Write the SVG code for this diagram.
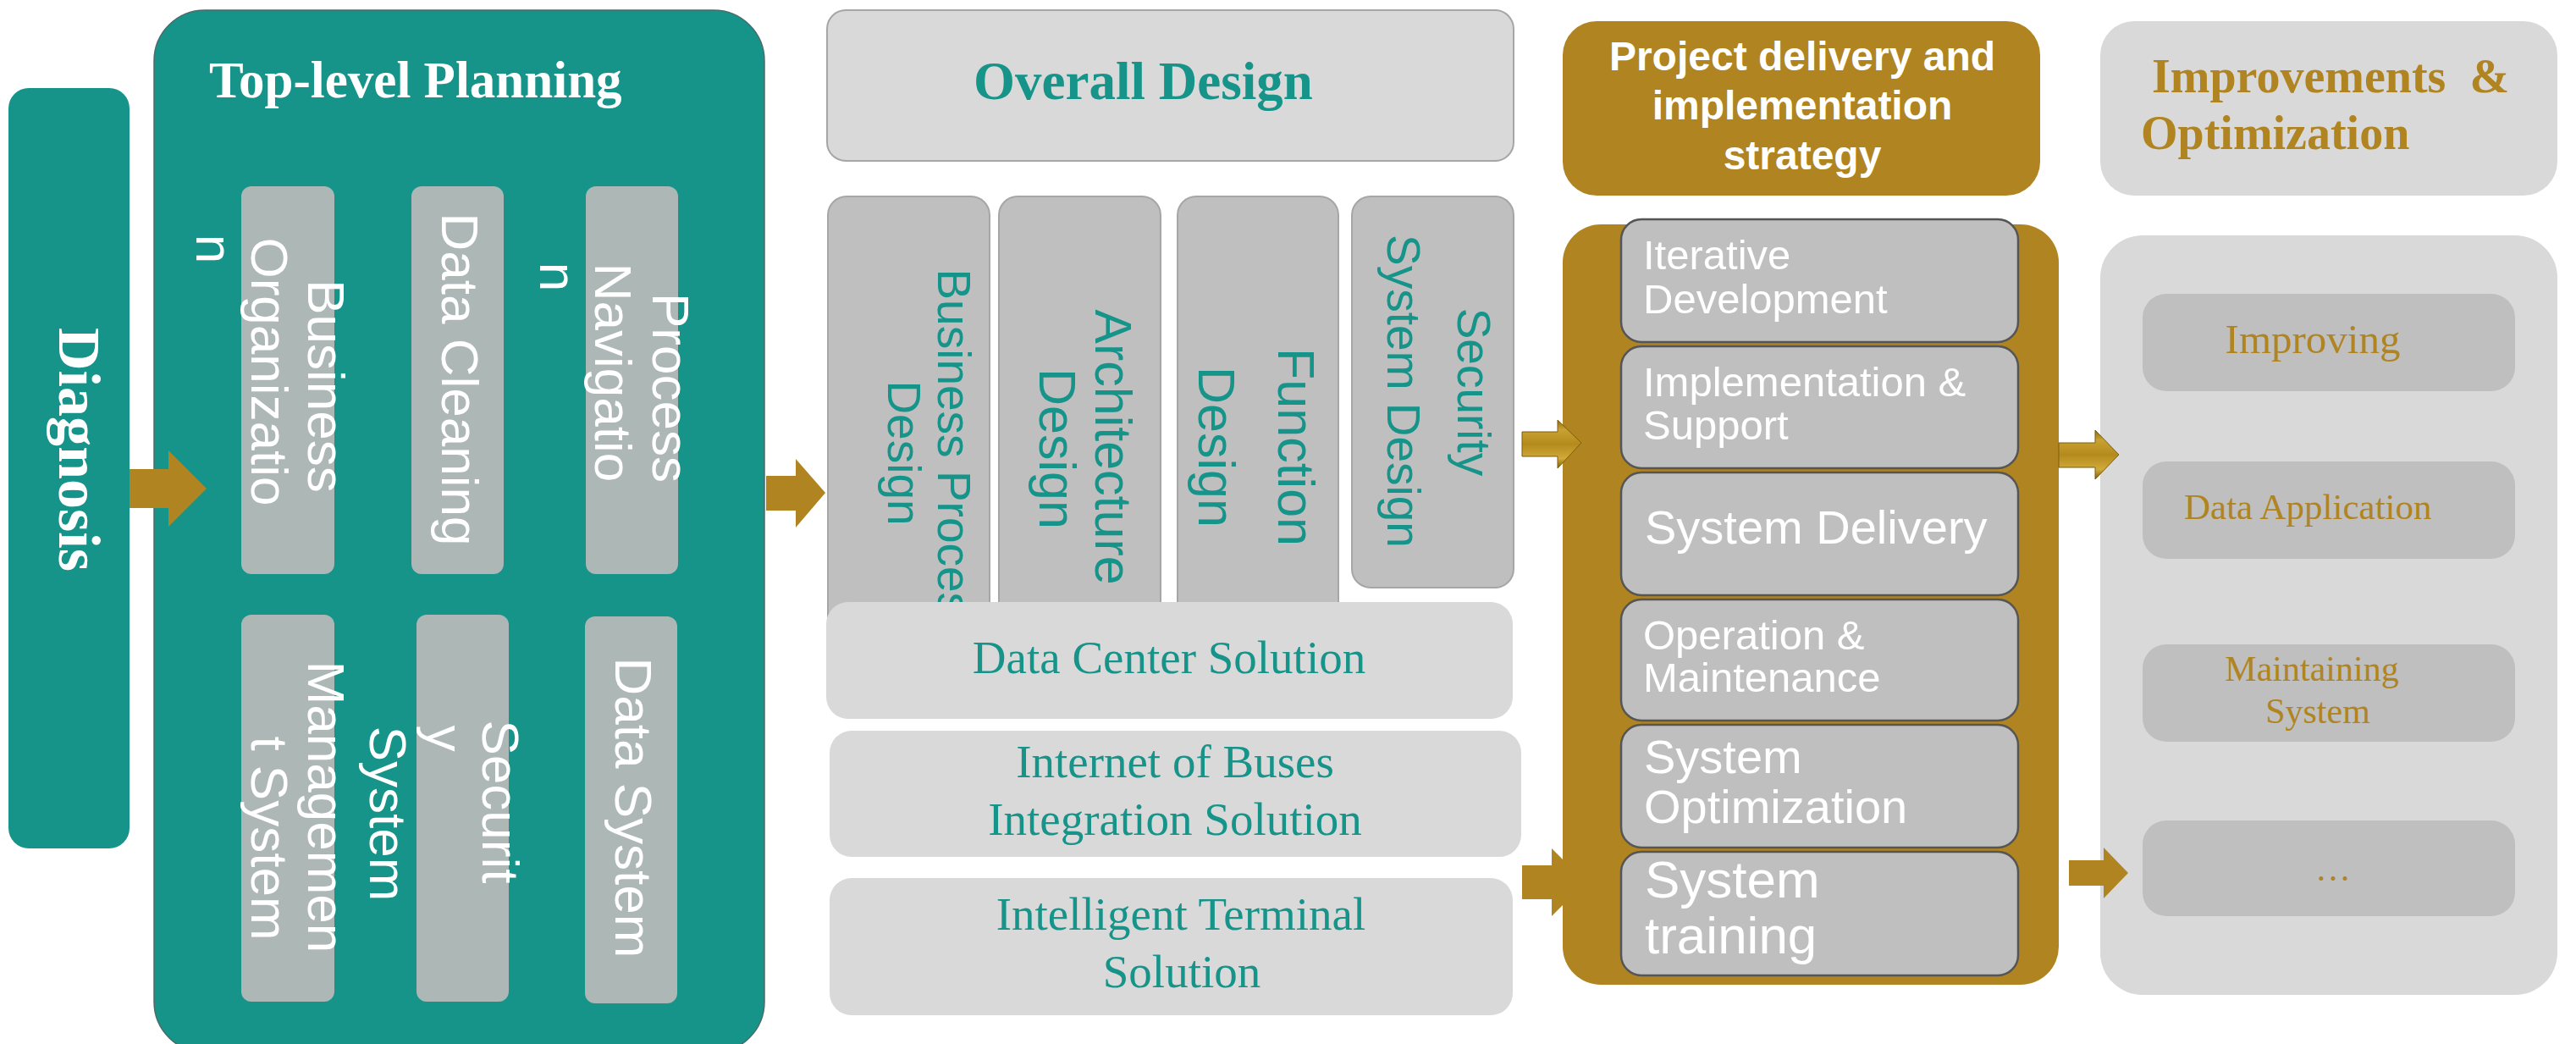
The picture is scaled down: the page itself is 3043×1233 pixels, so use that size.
<svg xmlns="http://www.w3.org/2000/svg" width="3043" height="1233" viewBox="0 0 3043 1233">
<defs>
<linearGradient id="bevel" x1="0" y1="0" x2="0" y2="1">
<stop offset="0" stop-color="#8E6C14"/>
<stop offset="0.2" stop-color="#C9A232"/>
<stop offset="0.5" stop-color="#B48A1C"/>
<stop offset="0.8" stop-color="#D0AA3A"/>
<stop offset="1" stop-color="#7C5E10"/>
</linearGradient>
</defs>
<style>
.teal{fill:#16948A}
.gold{fill:#B08420}
.lg{fill:#D9D9D9}
.mg{fill:#BFBFBF}
.tg{fill:#ADB8B6}
.sans{font-family:"Liberation Sans",Arial,sans-serif}
.serif{font-family:"Liberation Serif","Times New Roman",serif}
.w{fill:#FFFFFF}
.tt{fill:#16948A}
.gt{fill:#B08420}
.vt{font-family:"Liberation Sans",Arial,sans-serif;font-size:62px;fill:#FFFFFF;text-anchor:middle}
.vd{font-family:"Liberation Sans",Arial,sans-serif;fill:#16948A;text-anchor:middle}
.step{fill:#BFBFBF;stroke:#555555;stroke-width:2.5}
.pt{font-family:"Liberation Sans",Arial,sans-serif;fill:#FFFFFF}
.it{font-family:"Liberation Serif","Times New Roman",serif;fill:#B08420}
.sol{font-family:"Liberation Serif","Times New Roman",serif;font-size:55px;fill:#16948A;text-anchor:middle}
</style>

<g id="diagnosis">
<rect x="10" y="104" width="143" height="898" rx="24" class="teal"/>
<text class="serif w" font-weight="bold" font-size="70" text-anchor="middle" transform="translate(70,531) rotate(90)">Diagnosis</text>
</g>

<g id="top-level-planning">
<rect x="182" y="12" width="721" height="1231" rx="60" class="teal" stroke="#4A6B68" stroke-width="1.5"/>
<text x="247" y="115" class="serif w" font-weight="bold" font-size="61">Top-level Planning</text>
<g id="tl-business-organization">
<rect x="285" y="220" width="110" height="458" rx="12" class="tg"/>
<text class="vt" transform="translate(364,456) rotate(90)">Business</text>
<text class="vt" transform="translate(297,439) rotate(90)">Organizatio</text>
<text class="vt" transform="translate(232,294) rotate(90)">n</text>
</g>
<g id="tl-data-cleaning">
<rect x="486" y="220" width="109" height="458" rx="12" class="tg"/>
<text class="vt" transform="translate(522,448) rotate(90)">Data Cleaning</text>
</g>
<g id="tl-process-navigation">
<rect x="692" y="220" width="109" height="458" rx="12" class="tg"/>
<text class="vt" transform="translate(771,458) rotate(90)">Process</text>
<text class="vt" transform="translate(703,440) rotate(90)">Navigatio</text>
<text class="vt" transform="translate(638,327) rotate(90)">n</text>
</g>
<g id="tl-management-system">
<rect x="285" y="726" width="110" height="457" rx="12" class="tg"/>
<text class="vt" transform="translate(364,953) rotate(90)">Managemen</text>
<text class="vt" transform="translate(297,990) rotate(90)">t System</text>
</g>
<g id="tl-security-system">
<rect x="492" y="726" width="109" height="457" rx="12" class="tg"/>
<text class="vt" transform="translate(570,947) rotate(90)">Securit</text>
<text class="vt" transform="translate(505,872) rotate(90)">y</text>
<text class="vt" transform="translate(437,961) rotate(90)">System</text>
</g>
<g id="tl-data-system">
<rect x="691" y="728" width="109" height="457" rx="12" class="tg"/>
<text class="vt" transform="translate(727,954) rotate(90)">Data System</text>
</g>
</g>

<g id="overall-design">
<rect x="977" y="12" width="811" height="178" rx="22" class="lg" stroke="#A6A6A6" stroke-width="2"/>
<text x="1150" y="117" class="serif tt" font-weight="bold" font-size="63">Overall Design</text>
</g>
<g id="business-process-design">
<rect x="978" y="232" width="191" height="560" rx="22" class="mg" stroke="#A6A6A6" stroke-width="2"/>
<text class="vd" font-size="55" transform="translate(1108,536) rotate(90)">Business Process</text>
<text class="vd" font-size="55" transform="translate(1049,535) rotate(90)">Design</text>
</g>
<g id="architecture-design">
<rect x="1180" y="232" width="191" height="560" rx="22" class="mg" stroke="#A6A6A6" stroke-width="2"/>
<text class="vd" font-size="61" transform="translate(1294,528) rotate(90)">Architecture</text>
<text class="vd" font-size="61" transform="translate(1228,530) rotate(90)">Design</text>
</g>
<g id="function-design">
<rect x="1391" y="232" width="190" height="560" rx="22" class="mg" stroke="#A6A6A6" stroke-width="2"/>
<text class="vd" font-size="61" transform="translate(1510,528) rotate(90)">Function</text>
<text class="vd" font-size="61" transform="translate(1416,528) rotate(90)">Design</text>
</g>
<g id="security-system-design">
<rect x="1597" y="232" width="191" height="462" rx="22" class="mg" stroke="#A6A6A6" stroke-width="2"/>
<text class="vd" font-size="55" transform="translate(1722,463) rotate(90)">Security</text>
<text class="vd" font-size="55" transform="translate(1639,462) rotate(90)">System Design</text>
</g>
<g id="data-center-solution">
<rect x="976" y="711" width="811" height="138" rx="26" class="lg"/>
<text x="1381" y="795" class="sol">Data Center Solution</text>
</g>
<g id="internet-of-buses">
<rect x="980" y="863" width="817" height="149" rx="26" class="lg"/>
<text x="1388" y="918" class="sol">Internet of Buses</text>
<text x="1388" y="986" class="sol">Integration Solution</text>
</g>
<g id="intelligent-terminal">
<rect x="980" y="1037" width="807" height="162" rx="26" class="lg"/>
<text x="1395" y="1098" class="sol">Intelligent Terminal</text>
<text x="1396" y="1166" class="sol">Solution</text>
</g>

<g id="project-delivery-header">
<rect x="1846" y="25" width="564" height="206" rx="40" class="gold"/>
<text class="sans w" font-weight="bold" font-size="48" text-anchor="middle"><tspan x="2129" y="83">Project delivery and</tspan><tspan x="2129" y="141">implementation</tspan><tspan x="2129" y="200">strategy</tspan></text>
</g>
<g id="project-delivery-body">
<rect x="1846" y="265" width="586" height="898" rx="45" class="gold"/>
<g id="iterative-development">
<rect x="1915" y="259" width="469" height="145" rx="24" class="step"/>
<text class="pt" font-size="49"><tspan x="1941" y="318">Iterative</tspan><tspan x="1941" y="370">Development</tspan></text>
</g>
<g id="implementation-support">
<rect x="1915" y="409" width="469" height="144" rx="24" class="step"/>
<text class="pt" font-size="49"><tspan x="1941" y="468">Implementation &amp;</tspan><tspan x="1941" y="519">Support</tspan></text>
</g>
<g id="system-delivery">
<rect x="1915" y="558" width="469" height="145" rx="24" class="step"/>
<text class="pt" font-size="56" x="1943" y="642">System Delivery</text>
</g>
<g id="operation-maintenance">
<rect x="1915" y="708" width="469" height="143" rx="24" class="step"/>
<text class="pt" font-size="49"><tspan x="1941" y="767">Operation &amp;</tspan><tspan x="1941" y="817">Maintenance</tspan></text>
</g>
<g id="system-optimization">
<rect x="1915" y="856" width="469" height="145" rx="24" class="step"/>
<text class="pt" font-size="56"><tspan x="1942" y="913">System</tspan><tspan x="1942" y="972">Optimization</tspan></text>
</g>
<g id="system-training">
<rect x="1915" y="1006" width="469" height="146" rx="24" class="step"/>
<text class="pt" font-size="62"><tspan x="1943" y="1060">System</tspan><tspan x="1943" y="1126">training</tspan></text>
</g>
</g>

<g id="improvements-header">
<rect x="2481" y="25" width="540" height="206" rx="40" class="lg"/>
<text class="serif gt" font-weight="bold" font-size="56"><tspan x="2542" y="109" xml:space="preserve">Improvements  &amp;</tspan><tspan x="2529" y="176">Optimization</tspan></text>
</g>
<g id="improvements-body">
<rect x="2481" y="278" width="540" height="897" rx="50" class="lg"/>
<g id="improving">
<rect x="2531" y="347" width="440" height="115" rx="28" class="mg"/>
<text x="2732" y="417" class="it" font-size="49" text-anchor="middle">Improving</text>
</g>
<g id="data-application">
<rect x="2531" y="545" width="440" height="115" rx="28" class="mg"/>
<text x="2580" y="613" class="it" font-size="43">Data Application</text>
</g>
<g id="maintaining-system">
<rect x="2531" y="761" width="440" height="115" rx="28" class="mg"/>
<text class="it" font-size="42" text-anchor="middle"><tspan x="2731" y="804">Maintaining</tspan><tspan x="2738" y="854">System</tspan></text>
</g>
<g id="more">
<rect x="2531" y="969" width="440" height="113" rx="28" class="mg"/>
<text x="2756" y="1040" class="it" font-size="42" text-anchor="middle">…</text>
</g>
</g>

<g id="connectors">
<polygon points="153,554 199,554 199,532 244,577 199,622 199,600 153,600" class="gold"/>
<polygon points="905,562 940,562 940,542 975,582 940,623 940,603 905,603" class="gold"/>
<polygon points="1798,510 1840,510 1840,496 1868,523 1840,553 1840,539 1798,539" fill="url(#bevel)" stroke="#7A5C10" stroke-width="1"/>
<polygon points="1798,1022 1833,1022 1833,1002 1873,1042 1833,1082 1833,1062 1798,1062" class="gold"/>
<polygon points="2432,523 2475,523 2475,508 2503,537 2475,566 2475,552 2432,552" fill="url(#bevel)" stroke="#7A5C10" stroke-width="1"/>
<polygon points="2444,1016 2485,1016 2485,1001 2514,1031 2485,1061 2485,1046 2444,1046" class="gold"/>
</g>
</svg>
